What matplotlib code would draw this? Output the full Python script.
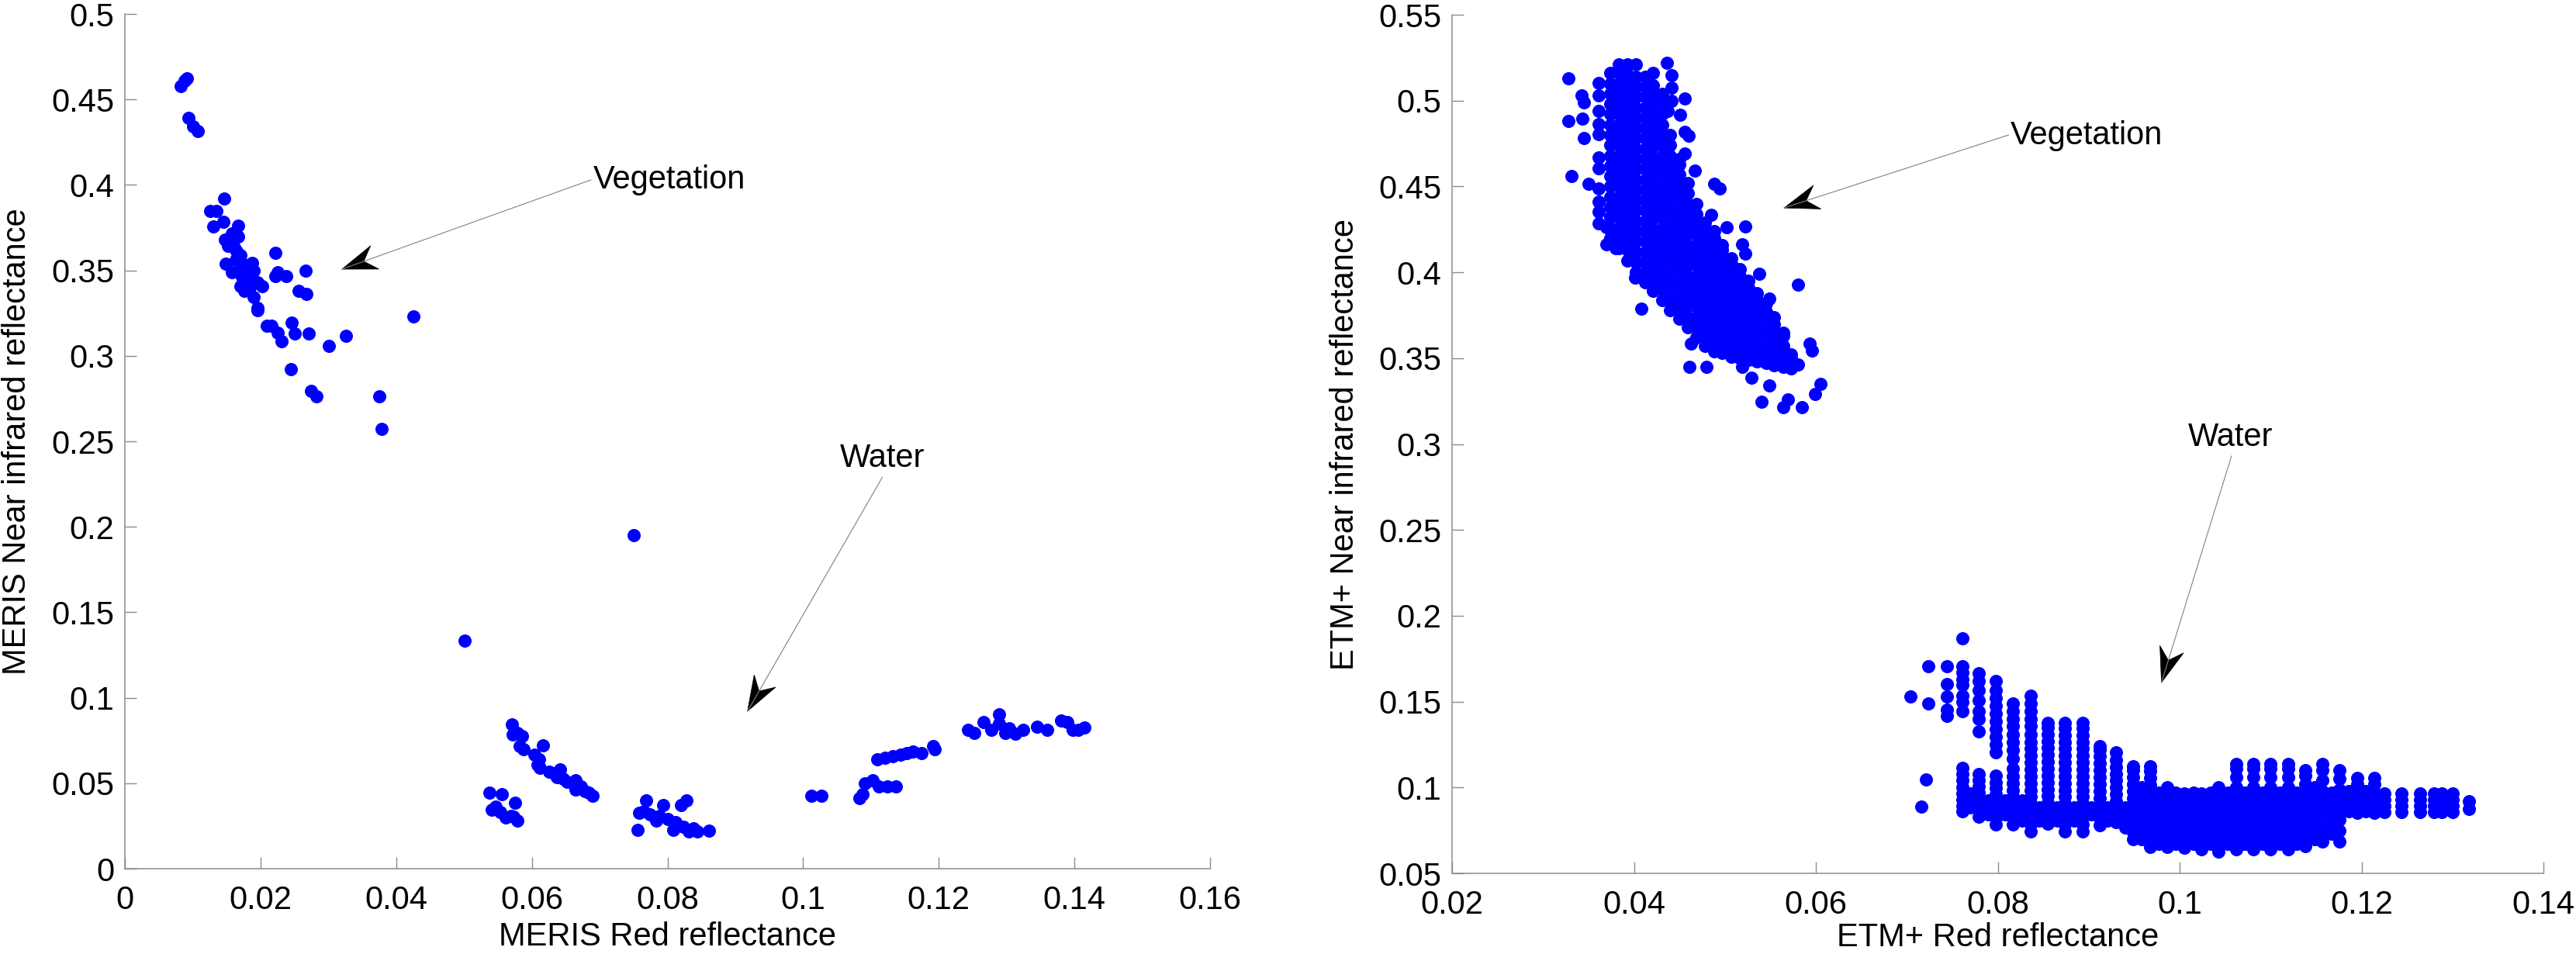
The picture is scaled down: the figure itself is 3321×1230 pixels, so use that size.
import numpy as np
import matplotlib
matplotlib.use("Agg")
import matplotlib.pyplot as plt
from matplotlib.patches import Polygon
from matplotlib.ticker import FuncFormatter

plt.rcParams['font.family'] = ['Liberation Sans', 'DejaVu Sans']

# ---------------- MERIS (left panel) ----------------
meris_veg_red = [0.0082, 0.0088, 0.0091, 0.0094, 0.0101, 0.0108,
                 0.0146, 0.0126, 0.0135, 0.0130, 0.0145, 0.0167, 0.0167, 0.0158, 0.0148, 0.0152,
                 0.0161, 0.0149, 0.0158, 0.0170, 0.0176, 0.0187, 0.0190, 0.0173, 0.0181, 0.0170,
                 0.0176, 0.0184, 0.0196, 0.0202, 0.0190, 0.0195, 0.0196, 0.0222, 0.0225, 0.0222,
                 0.0238, 0.0266, 0.0256, 0.0268, 0.0209, 0.0216, 0.0225, 0.0231, 0.0246, 0.0251,
                 0.0271, 0.0301, 0.0326, 0.0245, 0.0275, 0.0282, 0.0375, 0.0378, 0.0426,
                 0.0155, 0.0163, 0.0168, 0.0178, 0.0185, 0.0165]
meris_veg_nir = [0.4580, 0.4610, 0.4622, 0.4392, 0.4343, 0.4317,
                 0.3920, 0.3847, 0.3847, 0.3759, 0.3786, 0.3763, 0.3700, 0.3714, 0.3678, 0.3642,
                 0.3633, 0.3540, 0.3489, 0.3588, 0.3534, 0.3543, 0.3498, 0.3462, 0.3444, 0.3408,
                 0.3381, 0.3399, 0.3430, 0.3408, 0.3345, 0.3282, 0.3268, 0.3603, 0.3489, 0.3468,
                 0.3468, 0.3498, 0.3381, 0.3363, 0.3178, 0.3174, 0.3135, 0.3085, 0.3192, 0.3129,
                 0.3129, 0.3058, 0.3115, 0.2923, 0.2797, 0.2761, 0.2761, 0.2572, 0.3232,
                 0.3660, 0.3560, 0.3500, 0.3470, 0.3420, 0.3610]

meris_water_red = [0.0501, 0.0750,
                   0.0571, 0.0572, 0.0579, 0.0585, 0.0582, 0.0588, 0.0616, 0.0604, 0.0611, 0.0608,
                   0.0612, 0.0626, 0.0632, 0.0642, 0.0637, 0.0646, 0.0652, 0.0661, 0.0664, 0.0665,
                   0.0673, 0.0678, 0.0684, 0.0690,
                   0.0538, 0.0556, 0.0575, 0.0541, 0.0547, 0.0554, 0.0561, 0.0570, 0.0579, 0.0573,
                   0.0768, 0.0758, 0.0756, 0.0765, 0.0774, 0.0783, 0.0794, 0.0788, 0.0800, 0.0809,
                   0.0812, 0.0820, 0.0828, 0.0823, 0.0832, 0.0844, 0.0861, 0.0838,
                   0.1012, 0.1027,
                   0.1083, 0.1088, 0.1091, 0.1103, 0.1112, 0.1124, 0.1137,
                   0.1109, 0.1121, 0.1132, 0.1144, 0.1153, 0.1162, 0.1174, 0.1192, 0.1194,
                   0.1243, 0.1252, 0.1266, 0.1278, 0.1289, 0.1289, 0.1298, 0.1304, 0.1313, 0.1324,
                   0.1345, 0.1360, 0.1380, 0.1389, 0.1398, 0.1415, 0.1406]
meris_water_nir = [0.1333, 0.1949,
                   0.0842, 0.0783, 0.0796, 0.0774, 0.0719, 0.0701, 0.0723, 0.0665, 0.0638, 0.0607,
                   0.0592, 0.0565, 0.0556, 0.0583, 0.0537, 0.0528, 0.0510, 0.0501, 0.0519, 0.0464,
                   0.0483, 0.0455, 0.0446, 0.0428,
                   0.0446, 0.0437, 0.0386, 0.0346, 0.0364, 0.0333, 0.0301, 0.0310, 0.0282, 0.0304,
                   0.0401, 0.0328, 0.0228, 0.0337, 0.0319, 0.0282, 0.0373, 0.0310, 0.0291, 0.0228,
                   0.0273, 0.0373, 0.0401, 0.0246, 0.0219, 0.0219, 0.0224, 0.0237,
                   0.0428, 0.0428,
                   0.0413, 0.0437, 0.0501, 0.0519, 0.0483, 0.0483, 0.0479,
                   0.0638, 0.0647, 0.0656, 0.0665, 0.0674, 0.0687, 0.0674, 0.0719, 0.0701,
                   0.0811, 0.0792, 0.0856, 0.0811, 0.0902, 0.0847, 0.0792, 0.0820, 0.0789, 0.0811,
                   0.0829, 0.0811, 0.0865, 0.0856, 0.0811, 0.0825, 0.0811]

# ---------------- ETM+ (right panel) ----------------
# red reflectance is quantised, so the cloud is listed column by column
etm_veg_cols = [0.0374, 0.0383, 0.0393, 0.0402, 0.0412, 0.0421, 0.0431, 0.0440, 0.0450, 0.0459,
                0.0469, 0.0478, 0.0488, 0.0497, 0.0507, 0.0516, 0.0526, 0.0535, 0.0545, 0.0554,
                0.0564, 0.0573]
etm_veg_nir = [
    [0.420, 0.426, 0.432, 0.438, 0.444, 0.450, 0.456, 0.462, 0.468, 0.474, 0.480, 0.486, 0.492, 0.498, 0.504, 0.510, 0.516],
    [0.414, 0.420, 0.426, 0.432, 0.438, 0.444, 0.450, 0.456, 0.462, 0.468, 0.474, 0.480, 0.486, 0.492, 0.498, 0.504, 0.510, 0.516, 0.521],
    [0.407, 0.413, 0.419, 0.425, 0.431, 0.437, 0.443, 0.449, 0.455, 0.461, 0.467, 0.473, 0.479, 0.485, 0.491, 0.497, 0.503, 0.509, 0.515, 0.521],
    [0.400, 0.406, 0.412, 0.418, 0.424, 0.430, 0.436, 0.442, 0.448, 0.454, 0.460, 0.466, 0.472, 0.478, 0.484, 0.490, 0.496, 0.502, 0.508, 0.514, 0.521],
    [0.394, 0.400, 0.406, 0.412, 0.418, 0.424, 0.430, 0.436, 0.442, 0.448, 0.454, 0.460, 0.466, 0.472, 0.478, 0.484, 0.490, 0.496, 0.502, 0.508, 0.514],
    [0.389, 0.395, 0.401, 0.407, 0.413, 0.419, 0.425, 0.431, 0.437, 0.443, 0.449, 0.455, 0.461, 0.467, 0.473, 0.479, 0.485, 0.491, 0.497, 0.503, 0.509, 0.516],
    [0.384, 0.390, 0.396, 0.402, 0.408, 0.414, 0.420, 0.426, 0.432, 0.438, 0.444, 0.450, 0.456, 0.462, 0.468, 0.474, 0.480, 0.486, 0.492, 0.498, 0.504],
    [0.378, 0.384, 0.390, 0.396, 0.402, 0.408, 0.414, 0.420, 0.426, 0.432, 0.438, 0.444, 0.450, 0.456, 0.462, 0.468, 0.474, 0.480],
    [0.373, 0.379, 0.385, 0.391, 0.397, 0.403, 0.409, 0.415, 0.421, 0.427, 0.433, 0.439, 0.445, 0.451, 0.457, 0.463, 0.466],
    [0.368, 0.374, 0.380, 0.386, 0.392, 0.398, 0.404, 0.410, 0.416, 0.422, 0.428, 0.434, 0.440, 0.446, 0.452],
    [0.362, 0.368, 0.374, 0.380, 0.386, 0.392, 0.398, 0.404, 0.410, 0.416, 0.422, 0.428, 0.434, 0.440],
    [0.357, 0.363, 0.369, 0.375, 0.381, 0.387, 0.393, 0.399, 0.405, 0.411, 0.417, 0.423, 0.429],
    [0.354, 0.360, 0.366, 0.372, 0.378, 0.384, 0.390, 0.396, 0.402, 0.408, 0.414, 0.420, 0.424],
    [0.353, 0.359, 0.365, 0.371, 0.377, 0.383, 0.389, 0.395, 0.401, 0.407, 0.413, 0.416],
    [0.351, 0.357, 0.363, 0.369, 0.375, 0.381, 0.387, 0.393, 0.399, 0.405, 0.408],
    [0.350, 0.356, 0.362, 0.368, 0.374, 0.380, 0.386, 0.392, 0.398, 0.402],
    [0.349, 0.355, 0.361, 0.367, 0.373, 0.379, 0.385, 0.391, 0.395],
    [0.348, 0.354, 0.360, 0.366, 0.372, 0.378, 0.384, 0.388],
    [0.347, 0.353, 0.359, 0.365, 0.371, 0.377, 0.382],
    [0.346, 0.352, 0.358, 0.364, 0.370, 0.374],
    [0.345, 0.351, 0.357, 0.363, 0.365],
    [0.344, 0.350, 0.352],
]
# scattered points around the vegetation cloud
etm_veg_out_red = [0.0328, 0.0328, 0.0331, 0.0350, 0.0342, 0.0345, 0.0343, 0.0345,
                   0.0361, 0.0361, 0.0361, 0.0361, 0.0361, 0.0361, 0.0361, 0.0361, 0.0361, 0.0361, 0.0361,
                   0.0370, 0.0370, 0.0380, 0.0408, 0.0401,
                   0.0436, 0.0441, 0.0441, 0.0441, 0.0437, 0.0451,
                   0.0456, 0.0456, 0.0460, 0.0456, 0.0467, 0.0488, 0.0494, 0.0485, 0.0502, 0.0522,
                   0.0519, 0.0522, 0.0538, 0.0580, 0.0549, 0.0593, 0.0596, 0.0580, 0.0605, 0.0599,
                   0.0569, 0.0564, 0.0585, 0.0540, 0.0549, 0.0529, 0.0519, 0.0480, 0.0461, 0.0463]
etm_veg_out_nir = [0.5131, 0.4881, 0.4562, 0.4517, 0.5029, 0.4991, 0.4893, 0.4781,
                   0.4284, 0.4351, 0.4412, 0.4487, 0.4607, 0.4668, 0.4803, 0.4863, 0.4939, 0.5029, 0.5104,
                   0.4261, 0.4163, 0.4140, 0.3787, 0.3967,
                   0.5222, 0.5149, 0.5074, 0.4999, 0.4939, 0.4916,
                   0.5014, 0.4818, 0.4796, 0.4690, 0.4592, 0.4517, 0.4487, 0.4336, 0.4261, 0.4269,
                   0.4163, 0.4111, 0.3990, 0.3930, 0.3847, 0.3584, 0.3546, 0.3463, 0.3350, 0.3290,
                   0.3260, 0.3215, 0.3215, 0.3245, 0.3343, 0.3388, 0.3448, 0.3448, 0.3448, 0.3584]

etm_water_cols = [0.0704, 0.0716, 0.0721, 0.0724, 0.0744, 0.0761, 0.0770, 0.0779, 0.0789, 0.0798,
                  0.0808, 0.0817, 0.0827, 0.0836, 0.0846, 0.0855, 0.0865, 0.0874, 0.0884, 0.0893,
                  0.0903, 0.0912, 0.0921, 0.0930, 0.0940, 0.0949, 0.0958, 0.0968, 0.0977, 0.0986,
                  0.0996, 0.1005, 0.1015, 0.1024, 0.1034, 0.1043, 0.1053, 0.1062, 0.1072, 0.1081,
                  0.1091, 0.1100, 0.1110, 0.1119, 0.1129, 0.1138, 0.1148, 0.1157, 0.1167, 0.1176,
                  0.1186, 0.1195, 0.1205, 0.1214, 0.1225, 0.1244, 0.1264, 0.1280, 0.1288, 0.1300,
                  0.1318]
etm_water_nir = [
    [0.1529],
    [0.0889],
    [0.1047],
    [0.1487, 0.1705],
    [0.1416, 0.1453, 0.1529, 0.1604, 0.1705],
    [0.0860, 0.0895, 0.0930, 0.0965, 0.1000, 0.1040, 0.1076, 0.1114, 0.1446, 0.1499, 0.1536, 0.1596, 0.1627, 0.1672, 0.1705, 0.1867],
    [0.0885, 0.0925, 0.0965],
    [0.0830, 0.0865, 0.0900, 0.0935, 0.0970, 0.1005, 0.1040, 0.1076, 0.1325, 0.1401, 0.1446, 0.1506, 0.1566, 0.1619, 0.1664],
    [0.0845, 0.0885, 0.0925],
    [0.0785, 0.0820, 0.0855, 0.0890, 0.0925, 0.0960, 0.0995, 0.1030, 0.1070, 0.1205, 0.1250, 0.1295, 0.1340, 0.1385, 0.1430, 0.1475, 0.1520, 0.1565, 0.1619],
    [0.0845, 0.0885, 0.0925],
    [0.0785, 0.0825, 0.0865, 0.0905, 0.0945, 0.0985, 0.1025, 0.1065, 0.1110, 0.1167, 0.1220, 0.1265, 0.1310, 0.1356, 0.1401, 0.1446, 0.1491],
    [0.0805, 0.0845, 0.0885, 0.0925],
    [0.0745, 0.0785, 0.0825, 0.0865, 0.0905, 0.0945, 0.0985, 0.1025, 0.1065, 0.1105, 0.1145, 0.1185, 0.1225, 0.1265, 0.1310, 0.1356, 0.1401, 0.1446, 0.1491, 0.1536],
    [0.0805, 0.0845, 0.0885],
    [0.0790, 0.0830, 0.0870, 0.0910, 0.0950, 0.0990, 0.1030, 0.1070, 0.1110, 0.1150, 0.1190, 0.1230, 0.1270, 0.1310, 0.1350, 0.1378],
    [0.0805, 0.0845, 0.0885],
    [0.0745, 0.0785, 0.0825, 0.0865, 0.0905, 0.0945, 0.0985, 0.1025, 0.1065, 0.1105, 0.1145, 0.1185, 0.1225, 0.1265, 0.1305, 0.1345, 0.1378],
    [0.0805, 0.0845, 0.0885],
    [0.0745, 0.0785, 0.0825, 0.0865, 0.0905, 0.0945, 0.0985, 0.1025, 0.1065, 0.1105, 0.1145, 0.1185, 0.1225, 0.1265, 0.1305, 0.1345, 0.1378],
    [0.0845, 0.0885],
    [0.0780, 0.0820, 0.0860, 0.0900, 0.0940, 0.0980, 0.1020, 0.1060, 0.1100, 0.1140, 0.1180, 0.1220, 0.1241],
    [0.0805, 0.0845, 0.0885],
    [0.0800, 0.0840, 0.0880, 0.0920, 0.0960, 0.1000, 0.1040, 0.1080, 0.1120, 0.1160, 0.1205],
    [0.0765, 0.0805, 0.0845, 0.0885],
    [0.0700, 0.0740, 0.0780, 0.0820, 0.0860, 0.0900, 0.0940, 0.0980, 0.1020, 0.1060, 0.1100, 0.1123],
    [0.0700, 0.0760, 0.0820, 0.0880, 0.0940, 0.1000],
    [0.0655, 0.0695, 0.0735, 0.0775, 0.0815, 0.0855, 0.0895, 0.0935, 0.0975, 0.1015, 0.1055, 0.1095, 0.1123],
    [0.0670, 0.0730, 0.0790, 0.0850, 0.0910, 0.0970],
    [0.0655, 0.0695, 0.0735, 0.0775, 0.0815, 0.0855, 0.0895, 0.0935, 0.0975, 0.1001],
    [0.0670, 0.0730, 0.0790, 0.0850, 0.0910, 0.0970],
    [0.0650, 0.0690, 0.0730, 0.0770, 0.0810, 0.0850, 0.0890, 0.0930, 0.0965],
    [0.0670, 0.0730, 0.0790, 0.0850, 0.0910, 0.0970],
    [0.0640, 0.0700, 0.0760, 0.0820, 0.0880, 0.0940, 0.0965],
    [0.0670, 0.0730, 0.0790, 0.0850, 0.0910, 0.0970],
    [0.0626, 0.0680, 0.0740, 0.0800, 0.0860, 0.0920, 0.0980, 0.1001],
    [0.0670, 0.0730, 0.0790, 0.0850, 0.0910, 0.0970],
    [0.0640, 0.0700, 0.0760, 0.0820, 0.0880, 0.0940, 0.1000, 0.1060, 0.1110, 0.1137],
    [0.0670, 0.0730, 0.0790, 0.0850, 0.0910, 0.0970],
    [0.0640, 0.0700, 0.0760, 0.0820, 0.0880, 0.0940, 0.1000, 0.1060, 0.1110, 0.1137],
    [0.0670, 0.0730, 0.0790, 0.0850, 0.0910, 0.0970],
    [0.0640, 0.0700, 0.0760, 0.0820, 0.0880, 0.0940, 0.1000, 0.1060, 0.1110, 0.1137],
    [0.0670, 0.0730, 0.0790, 0.0850, 0.0910, 0.0970],
    [0.0640, 0.0700, 0.0760, 0.0820, 0.0880, 0.0940, 0.1000, 0.1060, 0.1110, 0.1137],
    [0.0670, 0.0730, 0.0790, 0.0850, 0.0910, 0.0970],
    [0.0660, 0.0720, 0.0780, 0.0840, 0.0900, 0.0960, 0.1020, 0.1070, 0.1100],
    [0.0700, 0.0760, 0.0820, 0.0880, 0.0940, 0.1000],
    [0.0685, 0.0740, 0.0800, 0.0860, 0.0920, 0.0980, 0.1040, 0.1100, 0.1137],
    [0.0730, 0.0790, 0.0850, 0.0910, 0.0970],
    [0.0685, 0.0750, 0.0810, 0.0870, 0.0930, 0.0990, 0.1050, 0.1100],
    [0.0860, 0.0920, 0.0980],
    [0.0851, 0.0910, 0.0970, 0.1020, 0.1054],
    [0.0860, 0.0920, 0.0980],
    [0.0851, 0.0910, 0.0970, 0.1020, 0.1054],
    [0.0858, 0.0895, 0.0930, 0.0963],
    [0.0858, 0.0895, 0.0930, 0.0963],
    [0.0858, 0.0895, 0.0930, 0.0963],
    [0.0858, 0.0895, 0.0930, 0.0963],
    [0.0858, 0.0895, 0.0930, 0.0963],
    [0.0858, 0.0895, 0.0930, 0.0963],
    [0.0873, 0.0918],
]

meris_xticks = [0, 0.02, 0.04, 0.06, 0.08, 0.1, 0.12, 0.14, 0.16]
meris_yticks = [0, 0.05, 0.1, 0.15, 0.2, 0.25, 0.3, 0.35, 0.4, 0.45, 0.5]
etm_xticks = [0.02, 0.04, 0.06, 0.08, 0.1, 0.12, 0.14]
etm_yticks = [0.05, 0.1, 0.15, 0.2, 0.25, 0.3, 0.35, 0.4, 0.45, 0.5, 0.55]


def expand(cols, nir_lists):
    xs, ys = [], []
    for c, vals in zip(cols, nir_lists):
        xs += [c] * len(vals)
        ys += vals
    return xs, ys


def style_axes(ax, xticks, yticks):
    ax.set_xlim(xticks[0], xticks[-1])
    ax.set_ylim(yticks[0], yticks[-1])
    ax.spines['top'].set_visible(False)
    ax.spines['right'].set_visible(False)
    for s in ['left', 'bottom']:
        ax.spines[s].set_color('#8c8c8c')
        ax.spines[s].set_linewidth(1.1)
    ax.set_xticks(xticks)
    ax.set_yticks(yticks)
    fmt = FuncFormatter(lambda v, p: '%g' % round(v, 4))
    ax.xaxis.set_major_formatter(fmt)
    ax.yaxis.set_major_formatter(fmt)
    ax.tick_params(direction='in', length=11, width=1, color='#8c8c8c',
                   labelsize=30, labelcolor='black')
    ax.tick_params(axis='x', pad=15)
    ax.tick_params(axis='y', pad=10)


def dart_arrow(ax, tail, tip):
    # thin grey shaft, black dart head (matlab style)
    ax.plot([tail[0], tip[0]], [tail[1], tip[1]], color='#808080', lw=0.8)
    p_tip = ax.transData.transform(tip)
    p_tail = ax.transData.transform(tail)
    d = (p_tail - p_tip) / np.hypot(*(p_tail - p_tip))
    n = np.array([-d[1], d[0]])
    L, W, N = 45, 16, 30
    pts = [p_tip, p_tip + L * d + W * n, p_tip + N * d, p_tip + L * d - W * n]
    ax.add_patch(Polygon(ax.transData.inverted().transform(pts), closed=True,
                         fc='black', ec='black', lw=0.5))


fig = plt.figure(figsize=(33.21, 12.30), dpi=100)
ax1 = fig.add_axes([0.04848, 0.08943, 0.42126, 0.89593])
ax2 = fig.add_axes([0.56369, 0.08455, 0.42367, 0.90000])

style_axes(ax1, meris_xticks, meris_yticks)
style_axes(ax2, etm_xticks, etm_yticks)

blue = '#0000ff'
mk = dict(marker='o', linestyle='none', color=blue, ms=11.5, mew=0.7, mec=blue)
ax1.plot(meris_veg_red, meris_veg_nir, **mk)
ax1.plot(meris_water_red, meris_water_nir, **mk)

vx, vy = expand(etm_veg_cols, etm_veg_nir)
ax2.plot(vx, vy, **mk)
ax2.plot(etm_veg_out_red, etm_veg_out_nir, **mk)
wx, wy = expand(etm_water_cols, etm_water_nir)
ax2.plot(wx, wy, **mk)

ax1.set_xlabel('MERIS Red reflectance', fontsize=30, va='baseline')
ax1.xaxis.set_label_coords(0.5, -0.0900)
ax1.set_ylabel('MERIS Near infrared reflectance', fontsize=30, va='baseline', ha='center',
               rotation_mode='anchor')
ax1.yaxis.set_label_coords(-0.0915, 0.5)

ax2.set_xlabel('ETM+ Red reflectance', fontsize=30, va='baseline')
ax2.xaxis.set_label_coords(0.5, -0.0850)
ax2.set_ylabel('ETM+ Near infrared reflectance', fontsize=30, va='baseline', ha='center',
               rotation_mode='anchor')
ax2.yaxis.set_label_coords(-0.0903, 0.5)

# annotations
ax1.text(0.0691, 0.3979, 'Vegetation', fontsize=30, ha='left', va='baseline')
dart_arrow(ax1, (0.0687, 0.4029), (0.0320, 0.3507))
ax1.text(0.1117, 0.2350, 'Water', fontsize=30, ha='center', va='baseline')
dart_arrow(ax1, (0.1117, 0.2291), (0.0918, 0.0921))

ax2.text(0.0814, 0.4746, 'Vegetation', fontsize=30, ha='left', va='baseline')
dart_arrow(ax2, (0.0812, 0.4800), (0.0565, 0.4375))
ax2.text(0.1056, 0.2989, 'Water', fontsize=30, ha='center', va='baseline')
dart_arrow(ax2, (0.1057, 0.2930), (0.0980, 0.1611))

fig.savefig('out.png', dpi=100)
